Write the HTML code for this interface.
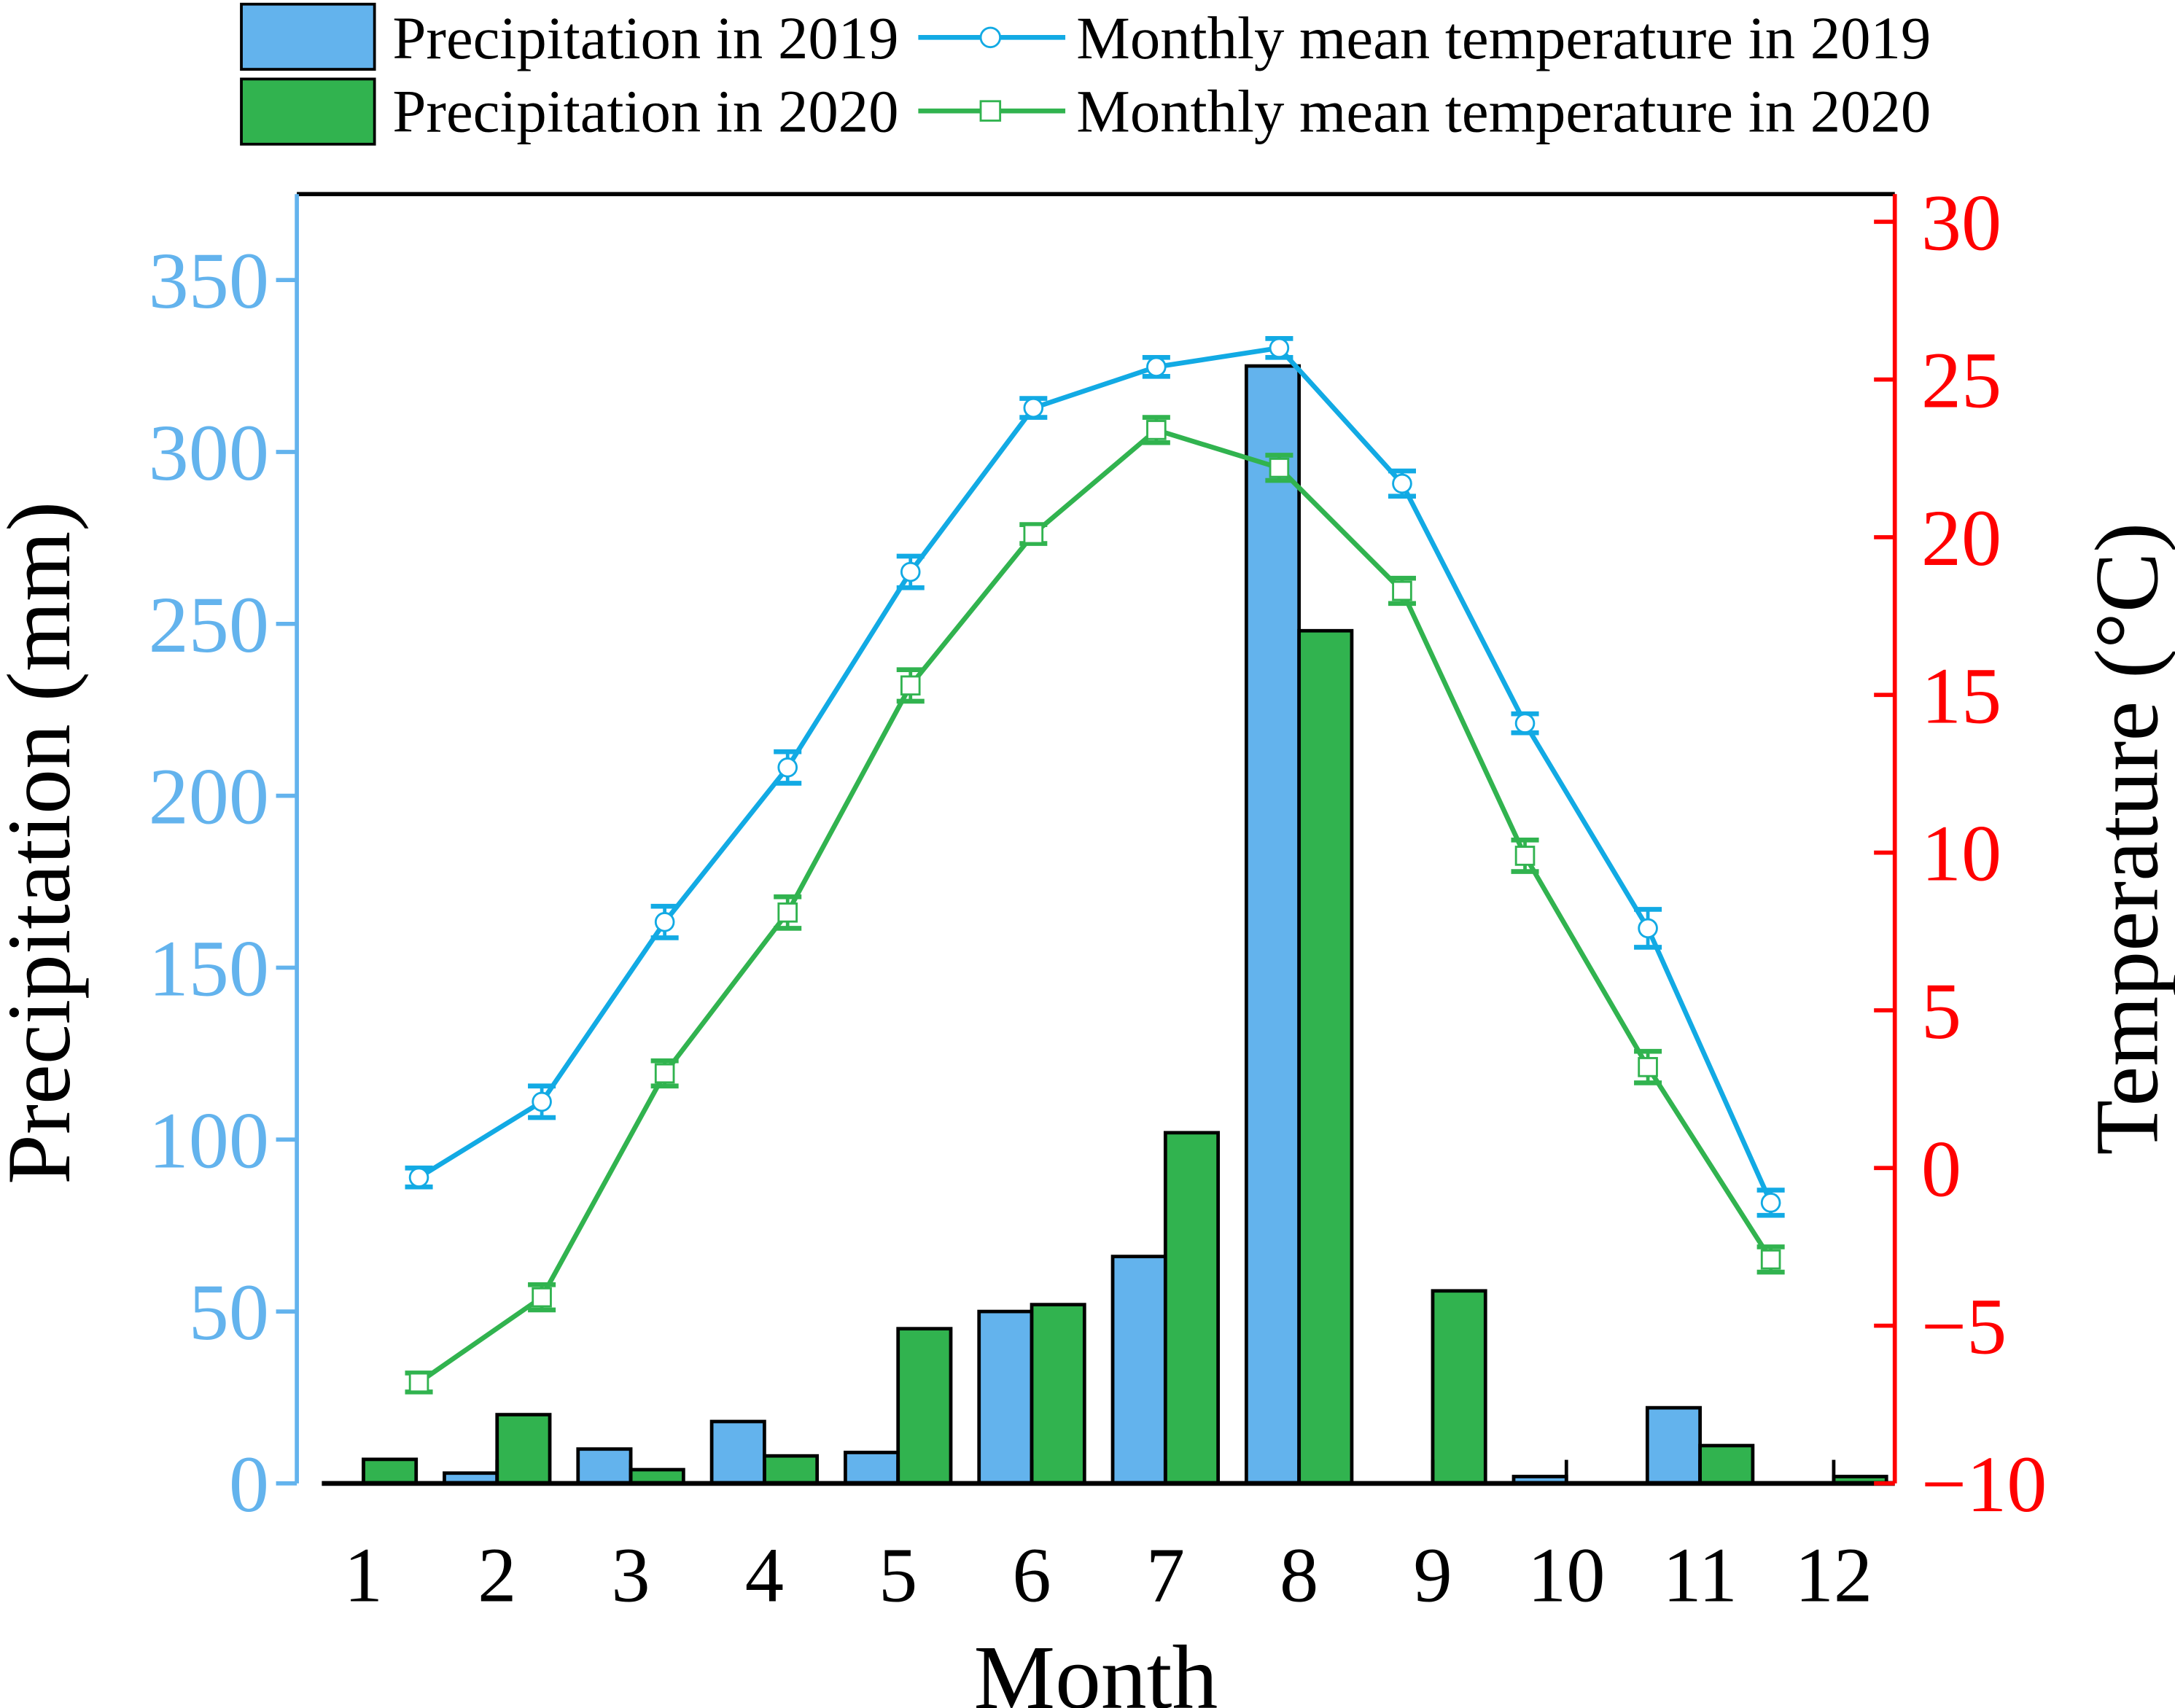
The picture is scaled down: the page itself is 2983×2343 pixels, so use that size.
<!DOCTYPE html>
<html><head><meta charset="utf-8"><style>
html,body{margin:0;padding:0;background:#fff}
svg{display:block}
text{font-family:"Liberation Serif",serif}
</style></head><body>
<svg id="chart" width="2983" height="2343" viewBox="0 0 1568 1232" preserveAspectRatio="none" xmlns="http://www.w3.org/2000/svg">
<g id="legend">
 <rect x="174" y="3" width="96" height="47" fill="#63b3ed" stroke="#000" stroke-width="2"/>
 <text x="283" y="42" font-size="43.5">Precipitation in 2019</text>
 <rect x="174" y="57" width="96" height="47" fill="#31b34f" stroke="#000" stroke-width="2"/>
 <text x="283" y="95" font-size="43.5">Precipitation in 2020</text>
 <line x1="662" y1="27" x2="768" y2="27" stroke="#12aae4" stroke-width="3.5"/>
 <circle cx="714" cy="27" r="7" fill="#fff" stroke="#12aae4" stroke-width="1.5"/>
 <text x="776" y="42" font-size="43.5">Monthly mean temperature in 2019</text>
 <line x1="662" y1="80" x2="768" y2="80" stroke="#31b34f" stroke-width="3.5"/>
 <rect x="707" y="73" width="14" height="14" fill="#fff" stroke="#31b34f" stroke-width="1.5"/>
 <text x="776" y="95" font-size="43.5">Monthly mean temperature in 2020</text>
</g>
<g id="bars"></g>
<g id="lines"></g>
<g id="axes"></g>
</svg>
<script>
const months = [1,2,3,4,5,6,7,8,9,10,11,12];
const precip2019 = [0,3,10,18,9,50,66,325,0,2,22,0];
const precip2020 = [7,20,4,8,45,52,102,248,56,0,11,2];
const temp2019 = [-0.3,2.1,7.8,12.7,18.9,24.1,25.4,26.0,21.7,14.1,7.6,-1.1];
const temp2020 = [-6.8,-4.1,3.0,8.1,15.3,20.1,23.4,22.2,18.3,9.9,3.2,-2.9];
const err2019 = [0.3,0.5,0.5,0.5,0.5,0.3,0.3,0.3,0.4,0.3,0.6,0.4];
const err2020 = [0.3,0.4,0.4,0.5,0.5,0.3,0.4,0.4,0.4,0.5,0.5,0.4];
const precipTicks = [0,50,100,150,200,250,300,350];
const tempTicks = [-10,-5,0,5,10,15,20,25,30];

const NS="http://www.w3.org/2000/svg";
const X0=214,X1=1366,Y0=1070,YT=140;
const xMonth = m => 262 + (m-1)*96.36;
const xPoint = m => 302 + (m-1)*88.6;
const yP = v => Y0 - v*(868/350);
const yT = v => Y0 - (v+10)*22.75;
function mk(tag, attrs, parent){const e=document.createElementNS(NS,tag);for(const k in attrs)e.setAttribute(k,attrs[k]);parent.appendChild(e);return e;}
const bars=document.getElementById('bars'), lines=document.getElementById('lines'), axes=document.getElementById('axes');

months.forEach((m,i)=>{
  const xc=xMonth(m);
  if(precip2019[i]>0){
    const r=mk('rect',{x:xc-38,y:yP(precip2019[i]),width:38,height:Y0-yP(precip2019[i]),fill:'#63b3ed',stroke:'#000','stroke-width':2.5},bars);
    
    
  }
  if(precip2020[i]>0){
    const r=mk('rect',{x:xc,y:yP(precip2020[i]),width:38,height:Y0-yP(precip2020[i]),fill:'#31b34f',stroke:'#000','stroke-width':2.5},bars);
    
    
  }
  const t=mk('line',{x1:xc,x2:xc,y1:Y0,y2:Y0-17,stroke:'#000','stroke-width':2.5},bars);
  
  
});

function series(vals, errs, color, shape, name, w){
  const pts=months.map((m,i)=>xPoint(m)+','+yT(vals[i])).join(' ');
  const pl=mk('polyline',{points:pts,fill:'none',stroke:color,'stroke-width':w},lines);
  
  
  months.forEach((m,i)=>{
    const x=xPoint(m), y=yT(vals[i]), e=errs[i]*22.75;
    const g=mk('g',{},lines);
    
    
    mk('line',{x1:x,x2:x,y1:y-e,y2:y+e,stroke:color,'stroke-width':2.5},g);
    mk('line',{x1:x-10,x2:x+10,y1:y-e,y2:y-e,stroke:color,'stroke-width':3.5},g);
    mk('line',{x1:x-10,x2:x+10,y1:y+e,y2:y+e,stroke:color,'stroke-width':3.5},g);
    if(shape==='c') mk('circle',{cx:x,cy:y,r:6.5,fill:'#fff',stroke:color,'stroke-width':1.5},g);
    else mk('rect',{x:x-6.5,y:y-6.5,width:13,height:13,fill:'#fff',stroke:color,'stroke-width':1.5},g);
  });
}
series(temp2019, err2019, '#12aae4', 'c', 'temp-2019', 3.5);
series(temp2020, err2020, '#31b34f', 's', 'temp-2020', 3.5);

let a;
a=mk('line',{x1:X0,x2:X1,y1:YT,y2:YT,stroke:'#000','stroke-width':3},axes);

a=mk('line',{x1:232,x2:X1,y1:Y0,y2:Y0,stroke:'#000','stroke-width':3.5},axes);

a=mk('line',{x1:X0,x2:X0,y1:YT,y2:Y0,stroke:'#63b3ed','stroke-width':3},axes);

a=mk('line',{x1:X1,x2:X1,y1:YT,y2:Y0,stroke:'#ff0000','stroke-width':3},axes);


precipTicks.forEach(v=>{
  const y=yP(v);
  mk('line',{x1:X0-15,x2:X0,y1:y,y2:y,stroke:'#63b3ed','stroke-width':3},axes);
  const t=mk('text',{x:194,y:y+20,'font-size':58,'text-anchor':'end',fill:'#63b3ed'},axes);
  t.textContent=v;
  
  
});
tempTicks.forEach(v=>{
  const y=yT(v);
  mk('line',{x1:X1-15,x2:X1,y1:y,y2:y,stroke:'#ff0000','stroke-width':3},axes);
  const t=mk('text',{x:1385,y:y+20,'font-size':58,fill:'#ff0000'},axes);
  t.textContent=v<0?'\u2212'+(-v):v;
  
  
});
months.forEach(m=>{
  const t=mk('text',{x:xMonth(m),y:1155,'font-size':56,'text-anchor':'middle',fill:'#000'},axes);
  t.textContent=m;
  
  
});
let t=mk('text',{x:790,y:1232,'font-size':66,'text-anchor':'middle'},axes);
t.textContent='Month';


t=mk('text',{x:0,y:0,'font-size':65,'text-anchor':'middle',transform:'translate(50,608) rotate(-90)'},axes);
t.textContent='Precipitation (mm)';


t=mk('text',{x:0,y:0,'font-size':65,'text-anchor':'middle',transform:'translate(1555,605) rotate(-90)'},axes);
t.textContent='Temperature (\u00b0C)';


</script>
</body></html>
